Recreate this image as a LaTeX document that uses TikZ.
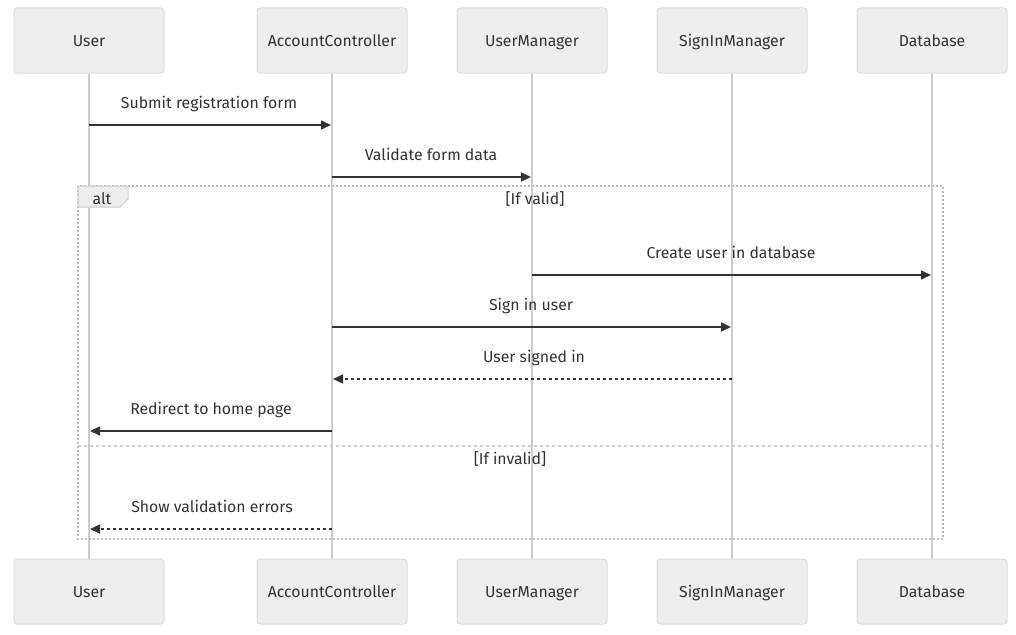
\documentclass[tikz,border=0pt]{standalone}
\usepackage{fontspec}
\setmainfont{Fira Sans}
\usetikzlibrary{arrows.meta}
\definecolor{boxfill}{HTML}{EEEEEE}
\definecolor{boxline}{HTML}{DDDDDD}
\definecolor{life}{HTML}{CCCCCC}
\definecolor{ink}{HTML}{333333}
\definecolor{framec}{HTML}{BBBBBB}
\tikzset{
  txt/.style={text=ink, font=\fontsize{15.8}{18}\selectfont, text height=13.5pt, text depth=1.5pt},
  actor/.style={txt, draw=boxline, fill=boxfill, rounded corners=3pt, line width=1pt,
    minimum width=150pt, minimum height=65pt, inner sep=0pt},
  lifeline/.style={draw=life, line width=2pt},
  msg/.style={draw=ink, line width=1.6pt, -{Triangle[length=10pt,width=9pt]}, shorten >=1pt},
  reply/.style={msg, dash pattern=on 3pt off 3pt},
  lbl/.style={txt, inner sep=0pt},
  frameline/.style={draw=framec, line width=1.2pt, dash pattern=on 2pt off 2pt},
  sepline/.style={draw=life, line width=1.5pt, dash pattern=on 3pt off 3pt},
}
\begin{document}
\begin{tikzpicture}[x=1pt,y=-1pt]
\useasboundingbox (0,0) rectangle (1016,634);
% lifelines
\foreach \n/\x in {u/89,ac/332,um/532,sm/732,db/932}{
  \coordinate (\n-top) at (\x,73);
  \coordinate (\n-bot) at (\x,559);
  \draw[lifeline] (\n-top) -- (\n-bot);
}
% participants
\node[actor] (uT)  at (89,40.5)  {User};
\node[actor] (acT) at (332,40.5) {AccountController};
\node[actor] (umT) at (532,40.5) {UserManager};
\node[actor] (smT) at (732,40.5) {SignInManager};
\node[actor] (dbT) at (932,40.5) {Database};
\node[actor] (uB)  at (89,591.5)  {User};
\node[actor] (acB) at (332,591.5) {AccountController};
\node[actor] (umB) at (532,591.5) {UserManager};
\node[actor] (smB) at (732,591.5) {SignInManager};
\node[actor] (dbB) at (932,591.5) {Database};
% alt frame
\coordinate (fa) at (78,186);
\coordinate (fb) at (943,539);
\draw[frameline] (fa) rectangle (fb);
\draw[fill=boxfill, draw=life, line width=1pt] (78,186) -- (128,186) -- (128,199) -- (120,207) -- (78,207) -- cycle;
\node[lbl] (altl) at (102,198) {alt};
\node[lbl] (cond1) at (535,198) {[If valid]};
\coordinate (sepa) at (78,446);
\coordinate (sepb) at (943,446);
\draw[sepline] (sepa) -- (sepb);
\node[lbl] (cond2) at (510,458) {[If invalid]};
% messages
\coordinate (m1a) at (89,125);  \coordinate (m1b) at (332,125);
\coordinate (m2a) at (332,177); \coordinate (m2b) at (532,177);
\coordinate (m3a) at (532,275); \coordinate (m3b) at (932,275);
\coordinate (m4a) at (332,327); \coordinate (m4b) at (732,327);
\coordinate (m5a) at (732,379); \coordinate (m5b) at (332,379);
\coordinate (m6a) at (332,431); \coordinate (m6b) at (89,431);
\coordinate (m7a) at (332,529); \coordinate (m7b) at (89,529);
\draw[msg] (m1a) -- (m1b);
\draw[msg] (m2a) -- (m2b);
\draw[msg] (m3a) -- (m3b);
\draw[msg] (m4a) -- (m4b);
\draw[reply] (m5a) -- (m5b);
\draw[msg] (m6a) -- (m6b);
\draw[reply] (m7a) -- (m7b);
\node[lbl] (t1) at (209,102) {Submit registration form};
\node[lbl] (t2) at (431,154) {Validate form data};
\node[lbl] (t3) at (731,252) {Create user in database};
\node[lbl] (t4) at (531,304) {Sign in user};
\node[lbl] (t5) at (534,356) {User signed in};
\node[lbl] (t6) at (211,408) {Redirect to home page};
\node[lbl] (t7) at (212,506) {Show validation errors};
\end{tikzpicture}
\end{document}
